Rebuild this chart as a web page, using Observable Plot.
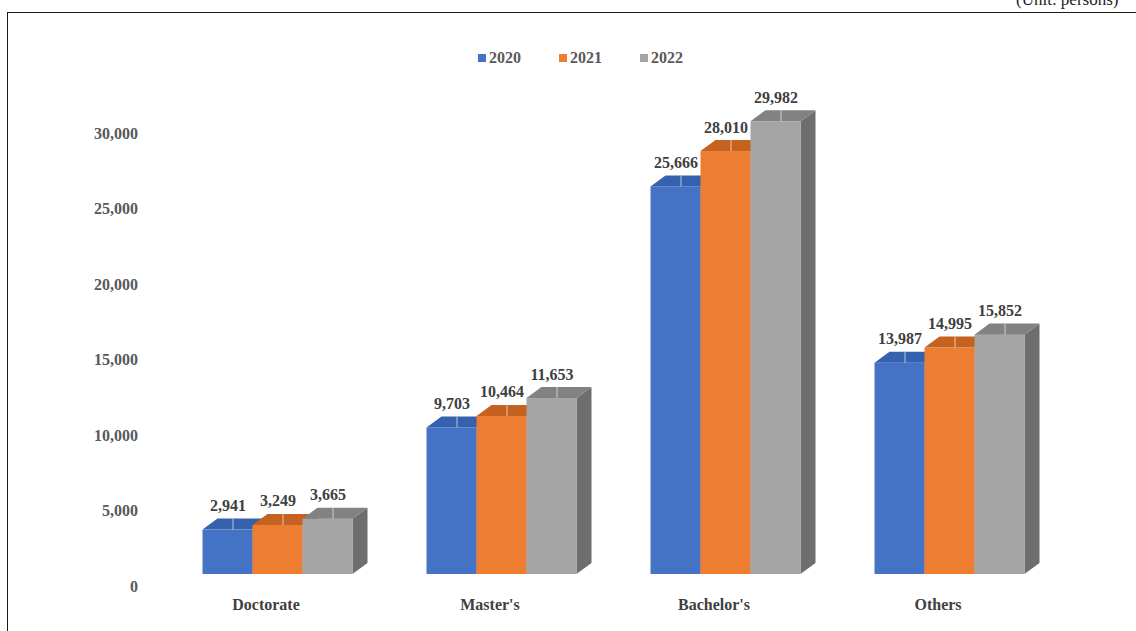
<!DOCTYPE html>
<html>
<head>
<meta charset="utf-8">
<script src="https://cdn.jsdelivr.net/npm/d3@7"></script>
<script src="https://cdn.jsdelivr.net/npm/@observablehq/plot@0.6"></script>
<style>
  html, body { margin: 0; padding: 0; background: #fff; }
  #wrap { position: relative; width: 1136px; height: 631px; overflow: hidden; font-family: "Liberation Serif", "Times New Roman", serif; }
  #frame { position: absolute; left: 7px; top: 12px; right: -2px; bottom: -2px; border-top: 1.5px solid #1a1a1a; border-left: 1.5px solid #1a1a1a; }
  #unit { position: absolute; left: 1016px; top: -8px; font-size: 17px; line-height: 16px; color: #222; white-space: nowrap; }
  #legend { position: absolute; top: 49px; left: 478px; display: flex; gap: 0; font-weight: bold; font-size: 16px; color: #595959; }
  #legend .item { display: flex; align-items: center; width: 81px; }
  #legend .sw { width: 8px; height: 8px; margin-right: 3px; }
  #chart { position: absolute; left: 0; top: 0; }
</style>
</head>
<body>
<div id="wrap">
  <div id="frame"></div>
  <div id="unit">(Unit: persons)</div>
  <div id="legend"></div>
  <div id="chart"></div>
</div>
<script>
// ---- data ----
const categories = ["Doctorate", "Master's", "Bachelor's", "Others"];
const seriesNames = ["2020", "2021", "2022"];
const values2020 = [2941, 9703, 25666, 13987];
const values2021 = [3249, 10464, 28010, 14995];
const values2022 = [3665, 11653, 29982, 15852];
const yTicks = [0, 5000, 10000, 15000, 20000, 25000, 30000];

// ---- styles ----
const frontColors = ["#4472C4", "#ED7D31", "#A5A5A5"];
const topColors = ["#3561AE", "#C5621F", "#828282"];
const sideColors = ["#2F5597", "#AE5A21", "#6E6E6E"];

const seriesValues = [values2020, values2021, values2022];
const bw = 50 / 224;        // bar width in category units
const depthX = 15 / 224;    // 3D depth, x
const depthY = 730;         // 3D depth, y (data units)

const bars = [];
seriesValues.forEach((vals, j) => {
  vals.forEach((v, i) => {
    const x1 = i + 0.5 - 1.5 * bw + j * bw;
    bars.push({cat: categories[i], series: seriesNames[j], j, i, v, x1, x2: x1 + bw});
  });
});

function sidePts(b) {
  return [
    {key: b.cat + b.series, x: b.x2, y1: 0, y2: b.v},
    {key: b.cat + b.series, x: b.x2 + depthX, y1: depthY, y2: b.v + depthY}
  ];
}
function topPts(b) {
  const k = b.cat + b.series;
  return [
    {key: k, x: b.x1, y1: b.v, y2: b.v},
    {key: k, x: b.x1 + depthX, y1: b.v, y2: b.v + depthY},
    {key: k, x: b.x2, y1: b.v, y2: b.v + depthY},
    {key: k, x: b.x2 + depthX, y1: b.v + depthY, y2: b.v + depthY}
  ];
}

const marks = [];
seriesNames.forEach((s, j) => {
  const bs = bars.filter(b => b.j === j);
  marks.push(Plot.areaY(bs.flatMap(sidePts), {x: "x", y1: "y1", y2: "y2", z: "key", fill: sideColors[j], curve: "linear"}));
  marks.push(Plot.rect(bs, {x1: "x1", x2: "x2", y1: () => 0, y2: "v", fill: frontColors[j]}));
  marks.push(Plot.areaY(bs.flatMap(topPts), {x: "x", y1: "y1", y2: "y2", z: "key", fill: topColors[j], curve: "linear"}));
  marks.push(Plot.ruleX(bs, {x: b => (b.x1 + b.x2) / 2 + depthX / 3, y1: "v", y2: b => b.v + depthY, stroke: "#e8e8e8", strokeOpacity: 0.75, strokeWidth: 1}));
});

// data labels
marks.push(Plot.text(bars, {
  x: b => (b.x1 + b.x2) / 2, y: b => b.v + depthY, dy: -8, lineAnchor: "bottom",
  text: b => d3.format(",")(b.v), fill: "#404040", fontWeight: "bold", fontSize: 16
}));
// y tick labels
marks.push(Plot.text(yTicks, {
  x: () => 0, y: d => d, dx: -28, dy: 12, textAnchor: "end",
  text: d => d3.format(",")(d), fill: "#595959", fontWeight: "bold", fontSize: 16
}));
// category labels
marks.push(Plot.text(categories, {
  x: (d, i) => i + 0.5, y: () => 0, dx: -12, dy: 30,
  text: d => d, fill: "#404040", fontWeight: "bold", fontSize: 16
}));

const chart = Plot.plot({
  width: 1136,
  height: 631,
  marginLeft: 165.5,
  marginRight: 74.5,
  marginTop: 121,
  marginBottom: 57,
  x: {type: "linear", domain: [0, 4], axis: null},
  y: {domain: [0, 30000], axis: null},
  style: {fontFamily: "'Liberation Serif', 'Times New Roman', serif", fontSize: "16px", background: "transparent", overflow: "visible"},
  marks
});
document.getElementById("chart").appendChild(chart);

// legend
const legend = document.getElementById("legend");
seriesNames.forEach((s, j) => {
  const item = document.createElement("div");
  item.className = "item";
  const sw = document.createElement("span");
  sw.className = "sw";
  sw.style.background = frontColors[j];
  const t = document.createElement("span");
  t.textContent = s;
  item.appendChild(sw);
  item.appendChild(t);
  legend.appendChild(item);
});
</script>
</body>
</html>
